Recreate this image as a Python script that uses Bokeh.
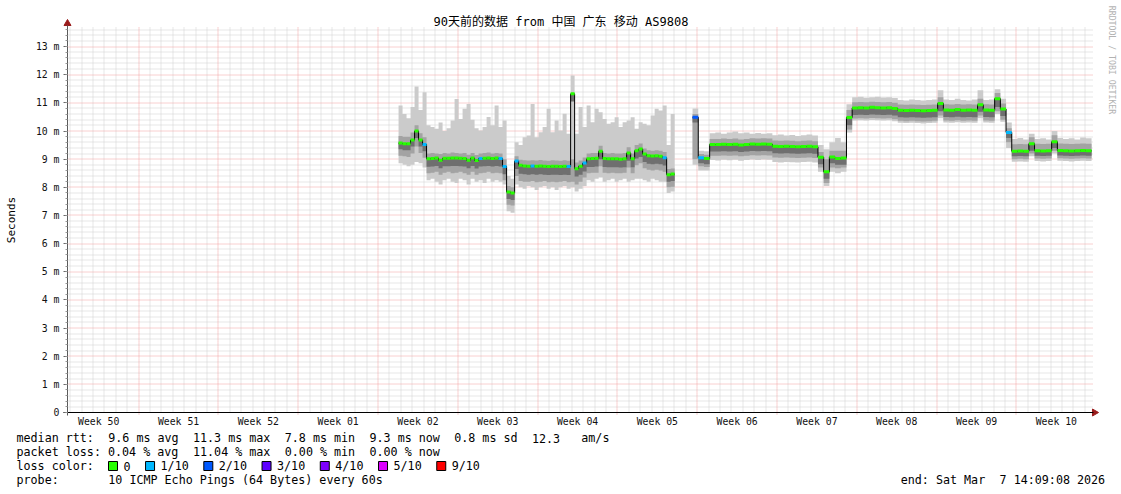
import re
import math
import numpy as np
from bokeh.plotting import figure
from bokeh.models import Range1d, LinearAxis, FixedTicker
from bokeh.core.properties import value
from bokeh.embed import file_html
from bokeh.resources import INLINE

# ---------------------------------------------------------------- data
title_text = "90天前的数据 from 中国 广东 移动 AS9808"
y_axis_title = "Seconds"
watermark = "RRDTOOL / TOBI OETIKER"

week_labels = ["Week 50", "Week 51", "Week 52", "Week 01", "Week 02", "Week 03",
               "Week 04", "Week 05", "Week 06", "Week 07", "Week 08", "Week 09", "Week 10"]
first_week_start = 6.24   # days after the start of the 90 day window
graph_days = 90

y_tick_values = list(range(14))
y_tick_labels = ["0", "1 m", "2 m", "3 m", "4 m", "5 m", "6 m", "7 m",
                 "8 m", "9 m", "10 m", "11 m", "12 m", "13 m"]

# first block of measurements (ms), one value per consolidated step
seg1_start_day = 29.04
seg1_step_day = 0.351
seg1_median = [9.57, 9.55, 9.55, 9.68, 10.0, 9.68, 9.52, 9.01, 9.02, 9.04,
               8.96, 9.03, 9.03, 9.04, 9.04, 9.03, 9.02, 8.96, 9.04, 8.95,
               9.02, 9.03, 9.04, 9.02, 9.04, 9.02, 8.74, 7.83, 7.80, 8.93,
               8.78, 8.76, 8.75, 8.76, 8.75, 8.76, 8.75, 8.74, 8.75, 8.75,
               8.74, 8.75, 8.74, 11.32, 8.66, 8.75, 8.86, 9.01, 9.02, 9.03,
               9.28, 9.02, 9.01, 9.01, 9.01, 9.00, 9.01, 9.22, 9.01, 9.30,
               9.36, 9.18, 9.12, 9.11, 9.12, 9.10, 9.05, 8.45, 8.47]
seg1_loss = [0, 0, 0, 0, 0, 0, 1, 0, 0, 0,
             0, 0, 0, 0, 0, 0, 0, 0, 0, 0,
             1, 0, 0, 0, 0, 1, 1, 0, 0, 1,
             0, 0, 0, 1, 0, 0, 0, 0, 0, 0,
             0, 0, 1, 0, 0, 0, 1, 0, 0, 0,
             0, 0, 0, 0, 0, 0, 0, 0, 0, 0,
             0, 0, 0, 0, 0, 0, 1, 0, 0]
seg1_max = [10.91, 10.6, 10.45, 10.85, 11.58, 10.75, 11.38, 10.2, 10.14, 10.08,
            10.3, 10.0, 10.1, 10.37, 11.14, 10.43, 10.79, 10.96, 10.4, 10.1,
            10.02, 10.14, 10.5, 10.2, 10.91, 10.14, 10.37, 8.4, 8.3, 9.6,
            9.5, 9.78, 9.84, 10.96, 9.78, 9.96, 10.14, 10.79, 9.96, 10.37,
            10.02, 10.61, 9.9, 11.97, 9.9, 10.85, 10.14, 10.91, 10.31, 10.79,
            10.67, 10.43, 10.26, 10.31, 10.49, 10.14, 10.31, 10.37, 10.49, 10.08,
            10.31, 10.26, 10.2, 10.55, 10.79, 10.73, 10.91, 9.5, 10.6]
seg1_upper_mid = [9.82, 9.80, 9.80, 9.95, 10.2, 9.92, 9.78, 9.2, 9.22, 9.2,
                  9.18, 9.22, 9.2, 9.24, 9.22, 9.2, 9.22, 9.16, 9.22, 9.15,
                  9.2, 9.22, 9.24, 9.2, 9.22, 9.2, 9.0, 8.05, 8.0, 9.1,
                  8.98, 8.96, 8.95, 8.96, 8.95, 8.97, 8.95, 8.94, 8.96, 8.95,
                  8.94, 8.96, 8.94, 9.0, 8.88, 8.95, 9.06, 9.2, 9.22, 9.22,
                  9.48, 9.22, 9.2, 9.22, 9.2, 9.2, 9.22, 9.42, 9.2, 9.5,
                  9.56, 9.38, 9.32, 9.3, 9.32, 9.3, 9.25, 8.65, 8.67]
seg1_lower_dark = [9.35, 9.32, 9.32, 9.45, 9.75, 9.45, 9.28, 8.73, 8.74, 8.76,
                   8.68, 8.75, 8.75, 8.76, 8.76, 8.75, 8.74, 8.68, 8.76, 8.67,
                   8.74, 8.75, 8.76, 8.74, 8.76, 8.74, 8.46, 7.58, 7.55, 8.65,
                   8.48, 8.46, 8.45, 8.46, 8.45, 8.46, 8.45, 8.44, 8.45, 8.45,
                   8.44, 8.45, 8.44, 11.05, 8.38, 8.45, 8.56, 8.72, 8.72, 8.74,
                   9.0, 8.72, 8.71, 8.71, 8.71, 8.7, 8.71, 8.94, 8.71, 9.02,
                   9.08, 8.9, 8.84, 8.82, 8.84, 8.82, 8.77, 8.2, 8.22]
seg1_lower_mid = [9.12, 9.10, 9.08, 9.2, 9.45, 9.22, 9.05, 8.5, 8.52, 8.55,
                  8.45, 8.52, 8.55, 8.5, 8.52, 8.55, 8.5, 8.45, 8.55, 8.45,
                  8.5, 8.52, 8.55, 8.5, 8.52, 8.5, 8.25, 7.38, 7.35, 8.4,
                  8.22, 8.2, 8.2, 8.22, 8.18, 8.2, 8.22, 8.18, 8.2, 8.18,
                  8.2, 8.22, 8.18, 8.2, 8.1, 8.2, 8.35, 8.5, 8.52, 8.52,
                  8.75, 8.52, 8.5, 8.52, 8.5, 8.5, 8.52, 8.7, 8.5, 8.78,
                  8.85, 8.68, 8.62, 8.6, 8.62, 8.6, 8.55, 8.0, 8.02]
seg1_min = [8.85, 8.8, 8.75, 8.8, 8.9, 8.85, 8.7, 8.25, 8.3, 8.2,
            8.1, 8.25, 8.3, 8.2, 8.15, 8.3, 8.25, 8.1, 8.3, 8.2,
            8.25, 8.15, 8.3, 8.2, 8.25, 8.2, 8.1, 7.15, 7.1, 8.1,
            8.0, 7.95, 8.05, 8.0, 7.9, 8.0, 8.05, 7.95, 8.0, 7.9,
            8.0, 8.05, 7.95, 8.0, 7.85, 7.95, 8.05, 8.25, 8.2, 8.3,
            8.35, 8.2, 8.25, 8.3, 8.2, 8.25, 8.3, 8.2, 8.25, 8.3,
            8.3, 8.25, 8.2, 8.3, 8.25, 8.2, 8.2, 7.8, 7.85]

# second block of measurements (ms)
seg2_start_day = 54.83
seg2_step_day = 0.5
seg2_median = [10.49, 9.05, 9.02, 9.52, 9.52, 9.53, 9.52, 9.53, 9.50, 9.52,
               9.54, 9.53, 9.54, 9.53, 9.46, 9.45, 9.46, 9.45, 9.44, 9.45,
               9.46, 9.44, 9.07, 8.55, 9.08, 9.02, 9.04, 10.48, 10.82, 10.83,
               10.82, 10.84, 10.83, 10.82, 10.83, 10.80, 10.74, 10.73, 10.74, 10.73,
               10.72, 10.73, 10.74, 10.98, 10.75, 10.74, 10.76, 10.74, 10.75, 10.74,
               10.93, 10.75, 10.74, 11.15, 10.78, 9.95, 9.28, 9.29, 9.28, 9.55,
               9.30, 9.29, 9.30, 9.62, 9.31, 9.30, 9.29, 9.30, 9.31, 9.30]
seg2_loss = [2, 1, 0, 0, 0, 0, 0, 0, 0, 0,
             0, 0, 0, 0, 0, 0, 0, 0, 0, 0,
             0, 0, 0, 0, 0, 0, 0, 0, 0, 0,
             0, 0, 0, 0, 0, 0, 0, 0, 0, 0,
             0, 0, 0, 0, 0, 0, 0, 0, 0, 0,
             0, 0, 0, 0, 0, 1, 0, 0, 0, 0,
             0, 0, 0, 0, 0, 0, 0, 0, 0, 0]
seg2_max = [10.8, 9.3, 9.28, 9.92, 9.95, 9.9, 9.95, 9.98, 9.92, 9.95,
            9.9, 9.93, 9.9, 9.92, 9.85, 9.88, 9.84, 9.86, 9.82, 9.85,
            9.88, 9.84, 9.5, 9.35, 9.6, 9.75, 9.6, 10.95, 11.2, 11.22,
            11.18, 11.2, 11.22, 11.19, 11.2, 11.17, 11.1, 11.08, 11.12, 11.1,
            11.08, 11.1, 11.12, 11.45, 11.12, 11.1, 11.15, 11.1, 11.08, 11.12,
            11.45, 11.1, 11.12, 11.48, 11.15, 10.3, 9.72, 9.75, 9.7, 9.9,
            9.72, 9.74, 9.7, 10.0, 9.75, 9.72, 9.74, 9.7, 9.77, 9.74]
seg2_upper_mid = [10.6, 9.18, 9.16, 9.72, 9.72, 9.73, 9.72, 9.73, 9.7, 9.72,
                  9.74, 9.73, 9.74, 9.73, 9.66, 9.65, 9.66, 9.65, 9.64, 9.65,
                  9.66, 9.64, 9.25, 9.0, 9.3, 9.3, 9.3, 10.75, 11.02, 11.03,
                  11.02, 11.04, 11.03, 11.02, 11.03, 11.0, 10.94, 10.93, 10.94, 10.93,
                  10.92, 10.93, 10.94, 11.2, 10.95, 10.94, 10.96, 10.94, 10.95, 10.94,
                  11.15, 10.95, 10.94, 11.35, 10.98, 10.1, 9.53, 9.54, 9.53, 9.78,
                  9.55, 9.54, 9.55, 9.85, 9.56, 9.55, 9.54, 9.55, 9.56, 9.55]
seg2_lower_dark = [10.3, 8.85, 8.82, 9.27, 9.27, 9.28, 9.27, 9.28, 9.25, 9.27,
                   9.29, 9.28, 9.29, 9.28, 9.21, 9.2, 9.21, 9.2, 9.19, 9.2,
                   9.21, 9.19, 8.82, 8.3, 8.85, 8.8, 8.8, 10.2, 10.57, 10.58,
                   10.57, 10.59, 10.58, 10.57, 10.58, 10.55, 10.49, 10.48, 10.49, 10.48,
                   10.47, 10.48, 10.49, 10.7, 10.5, 10.49, 10.51, 10.49, 10.5, 10.49,
                   10.68, 10.5, 10.49, 10.85, 10.53, 9.75, 9.1, 9.11, 9.1, 9.3,
                   9.12, 9.11, 9.12, 9.4, 9.13, 9.12, 9.11, 9.12, 9.13, 9.12]
seg2_lower_mid = [9.0, 8.75, 8.72, 9.12, 9.12, 9.13, 9.12, 9.13, 9.1, 9.12,
                  9.14, 9.13, 9.14, 9.13, 9.06, 9.05, 9.06, 9.05, 9.04, 9.05,
                  9.06, 9.04, 8.7, 8.15, 8.7, 8.68, 8.7, 10.05, 10.44, 10.45,
                  10.44, 10.46, 10.45, 10.44, 10.45, 10.42, 10.36, 10.35, 10.36, 10.35,
                  10.34, 10.35, 10.36, 10.55, 10.37, 10.36, 10.38, 10.36, 10.37, 10.36,
                  10.55, 10.37, 10.36, 10.7, 10.4, 9.6, 9.0, 9.01, 9.0, 9.2,
                  9.02, 9.01, 9.02, 9.3, 9.03, 9.02, 9.01, 9.02, 9.03, 9.02]
seg2_min = [8.8, 8.6, 8.6, 8.97, 8.95, 8.98, 8.96, 8.98, 8.94, 8.97,
            8.99, 8.97, 8.99, 8.98, 8.9, 8.88, 8.9, 8.89, 8.88, 8.9,
            8.91, 8.88, 8.55, 8.05, 8.55, 8.5, 8.55, 9.95, 10.37, 10.38,
            10.37, 10.39, 10.38, 10.37, 10.38, 10.35, 10.29, 10.28, 10.29, 10.28,
            10.27, 10.28, 10.29, 10.45, 10.3, 10.29, 10.31, 10.29, 10.3, 10.29,
            10.45, 10.3, 10.29, 10.6, 10.33, 9.4, 8.91, 8.92, 8.91, 9.1,
            8.93, 8.92, 8.93, 9.2, 8.94, 8.93, 8.92, 8.93, 8.94, 8.93]

legend_line_1 = "median rtt:  9.6 ms avg  11.3 ms max  7.8 ms min  9.3 ms now  0.8 ms sd  12.3   am/s"
legend_line_2 = "packet loss: 0.04 % avg  11.04 % max  0.00 % min  0.00 % now"
legend_line_3 = "loss color:"
legend_line_4 = "probe:       10 ICMP Echo Pings (64 Bytes) every 60s"
end_text = "end: Sat Mar  7 14:09:08 2026"
loss_levels = [0, 1, 2, 3, 4, 5, 9]
loss_labels = ["0", "1/10", "2/10", "3/10", "4/10", "5/10", "9/10"]
loss_colors = ["#26ff00", "#00b8ff", "#0059ff", "#5e00ff", "#7e00ff", "#dd00ff", "#ff0000"]

# ---------------------------------------------------------------- layout helpers
W, H = 1121, 494                  # the page is drawn from the window's top-left corner
PAGE = 0
X0_PX, Y0_PX = 67.0, 412.0        # window pixel of (day 0, 0 ms)
PX_PER_DAY = 11.4
PX_PER_MS = 28.15


def dx(px):
    return (px - X0_PX) / PX_PER_DAY


def dy(py):
    return (Y0_PX - py) / PX_PER_MS


def snap_x(d):      # put a 1px grid line on a pixel centre
    return dx(math.floor(X0_PX + d * PX_PER_DAY) + 0.5)


def snap_y(v):
    return dy(math.floor(Y0_PX - v * PX_PER_MS) + 0.5)


MONO = "DejaVu Sans Mono"
SMOKE_LIGHT = "#cbcbcb"
SMOKE_MID = "#a3a3a3"
SMOKE_DARK = "#6f6f6f"
GRID_MINOR = "#cdcdcd"
GRID_MAJOR = "#f3a0a0"
ARROW = "#9a1c1c"
loss_color_of = dict(zip(loss_levels, loss_colors))

p = figure(width=W, height=H,
           x_range=Range1d(dx(PAGE), dx(PAGE + W)),
           y_range=Range1d(dy(PAGE + H), dy(PAGE)),
           x_axis_type=None, y_axis_type=None,
           toolbar_location=None, output_backend="svg",
           min_border=0, title=None)
p.outline_line_color = None
p.background_fill_color = "white"
p.border_fill_color = "white"

# ---------------------------------------------------------------- grid
GRID_TOP = 13.7
week_starts = [round(first_week_start + 7 * k, 4) for k in range(12)]
day_lines = [round(first_week_start + k, 4) for k in range(-6, 84)
             if k % 7 != 0 and 0 < first_week_start + k < graph_days]
y_minor = [round(0.2 * k, 1) for k in range(1, 69) if k % 5 != 0]
y_major = list(range(1, 14))

vx_minor = [snap_x(d) for d in day_lines]
vx_major = [snap_x(d) for d in week_starts]
hy_minor = [snap_y(v) for v in y_minor]
hy_major = [snap_y(v) for v in y_major]

p.segment(x0=vx_minor, y0=0, x1=vx_minor, y1=GRID_TOP, line_color=GRID_MINOR,
          line_width=1, line_dash="1 1", level="underlay")
p.segment(x0=0, y0=hy_minor, x1=graph_days, y1=hy_minor, line_color=GRID_MINOR,
          line_width=1, line_dash="1 1", level="underlay")
p.segment(x0=vx_major, y0=-0.07, x1=vx_major, y1=GRID_TOP, line_color=GRID_MAJOR,
          line_width=1, line_dash="1 1", level="underlay")
p.segment(x0=0, y0=hy_major, x1=graph_days, y1=hy_major, line_color=GRID_MAJOR,
          line_width=1, line_dash="1 1", level="underlay")

# ---------------------------------------------------------------- smoke + median


def ext(a):
    return list(a) + [a[-1]]


segments = [
    (seg1_start_day, seg1_step_day, seg1_median, seg1_loss, seg1_min, seg1_lower_mid,
     seg1_lower_dark, seg1_upper_mid, seg1_max),
    (seg2_start_day, seg2_step_day, seg2_median, seg2_loss, seg2_min, seg2_lower_mid,
     seg2_lower_dark, seg2_upper_mid, seg2_max),
]
for start, step, med, loss, vmin, lo_mid, lo_dark, hi_mid, vmax in segments:
    n = len(med)
    edges = [start + step * i for i in range(n + 1)]
    p.varea_step(x=edges, y1=ext(vmin), y2=ext(vmax), step_mode="after",
                 fill_color=SMOKE_LIGHT)
    p.varea_step(x=edges, y1=ext(lo_mid), y2=ext(hi_mid), step_mode="after",
                 fill_color=SMOKE_MID)
    p.varea_step(x=edges, y1=ext(lo_dark), y2=ext(med), step_mode="after",
                 fill_color=SMOKE_DARK)
    p.step(x=edges, y=ext(med), mode="after", line_color="#000000", line_width=1)
    p.segment(x0=edges[:-1], x1=edges[1:], y0=med, y1=med,
              line_color=[loss_color_of[l] for l in loss], line_width=3)

# ---------------------------------------------------------------- axes
yaxis = LinearAxis(fixed_location=0,
                   ticker=FixedTicker(ticks=y_tick_values,
                                      minor_ticks=[round(0.2 * k, 1) for k in range(0, 69)]),
                   bounds=(-0.1, 13.75))
yaxis.major_label_overrides = dict(zip(y_tick_values, y_tick_labels))
yaxis.axis_line_color = "#5a5a5a"
yaxis.major_tick_in = 0
yaxis.major_tick_out = 4
yaxis.minor_tick_in = 0
yaxis.minor_tick_out = 2
yaxis.major_tick_line_color = "#6a6a6a"
yaxis.minor_tick_line_color = "#9a9a9a"
yaxis.major_label_standoff = 4
yaxis.major_label_text_font = MONO
yaxis.major_label_text_font_size = "9.8px"
yaxis.major_label_text_color = "#111111"
p.add_layout(yaxis, "left")

week_mid = [round(first_week_start - 3.5 + 7 * k, 4) for k in range(len(week_labels))]
xaxis = LinearAxis(fixed_location=0,
                   ticker=FixedTicker(ticks=week_mid, minor_ticks=[]),
                   bounds=(dx(62.5), graph_days))
xaxis.major_label_overrides = dict(zip(week_mid, week_labels))
xaxis.axis_line_color = "#000000"
xaxis.major_tick_in = 0
xaxis.major_tick_out = 0
xaxis.major_tick_line_color = None
xaxis.minor_tick_line_color = None
xaxis.major_label_standoff = 3
xaxis.major_label_text_font = MONO
xaxis.major_label_text_font_size = "9.8px"
xaxis.major_label_text_color = "#111111"
p.add_layout(xaxis, "below")

# arrow heads
p.scatter(x=[0], y=[dy(23)], marker="triangle", size=7, fill_color=ARROW, line_color=ARROW)
p.scatter(x=[dx(1094)], y=[0], marker="triangle", size=7, angle=-np.pi / 2,
          fill_color=ARROW, line_color=ARROW)

# ---------------------------------------------------------------- texts
p.text(x=[dx(560.5)], y=[dy(21.5)], text=[title_text], text_align="center",
       text_baseline="middle", text_font=value("DejaVu Sans Mono, Noto Sans CJK SC"),
       text_font_size=value("12px"), text_color="#000000")
p.text(x=[dx(10.5)], y=[dy(219.5)], text=[y_axis_title], angle=np.pi / 2,
       text_align="center", text_baseline="middle", text_font=value(MONO),
       text_font_size=value("11px"), text_color="#000000")
p.text(x=[dx(1111)], y=[dy(59.5)], text=[watermark], angle=-np.pi / 2,
       text_align="center", text_baseline="middle", text_font=value(MONO),
       text_font_size=value("8.2px"), text_color="#b2b2b2")

CW = 7.06          # advance of one legend character, px
LEG_X = 16
ROW_Y = [437.5, 451.5, 465.5, 479.5]


def items(line):
    return [(m.start(), m.group()) for m in re.finditer(r"\S+(?: \S+)*", line)]


lx, ly, lt = [], [], []
for row, line in enumerate([legend_line_1, legend_line_2, legend_line_3, legend_line_4]):
    for start, txt in items(line):
        lx.append(dx(LEG_X + start * CW))
        ly.append(dy(ROW_Y[row]))
        lt.append(txt)
end_left = 1105 - len(end_text) * CW
for start, txt in items(end_text):
    lx.append(dx(end_left + start * CW))
    ly.append(dy(ROW_Y[3]))
    lt.append(txt)

# loss colour legend
bx, by, bc = [], [], []
cursor = 108.0
for lab, col in zip(loss_labels, loss_colors):
    bx.append(dx(cursor + 4.5))
    by.append(dy(ROW_Y[2]))
    bc.append(col)
    lx.append(dx(cursor + 15))
    ly.append(dy(ROW_Y[2]))
    lt.append(lab)
    cursor = cursor + 15 + len(lab) * CW + 15

p.scatter(x=bx, y=by, marker="square", size=9, fill_color=bc, line_color="#000000",
          line_width=1)
p.text(x=lx, y=ly, text=lt, text_align="left", text_baseline="middle",
       text_font=value(MONO), text_font_size=value("11.7px"), text_color="#000000")

with open("out.html", "w", encoding="utf-8") as f:
    f.write(file_html(p, INLINE))
